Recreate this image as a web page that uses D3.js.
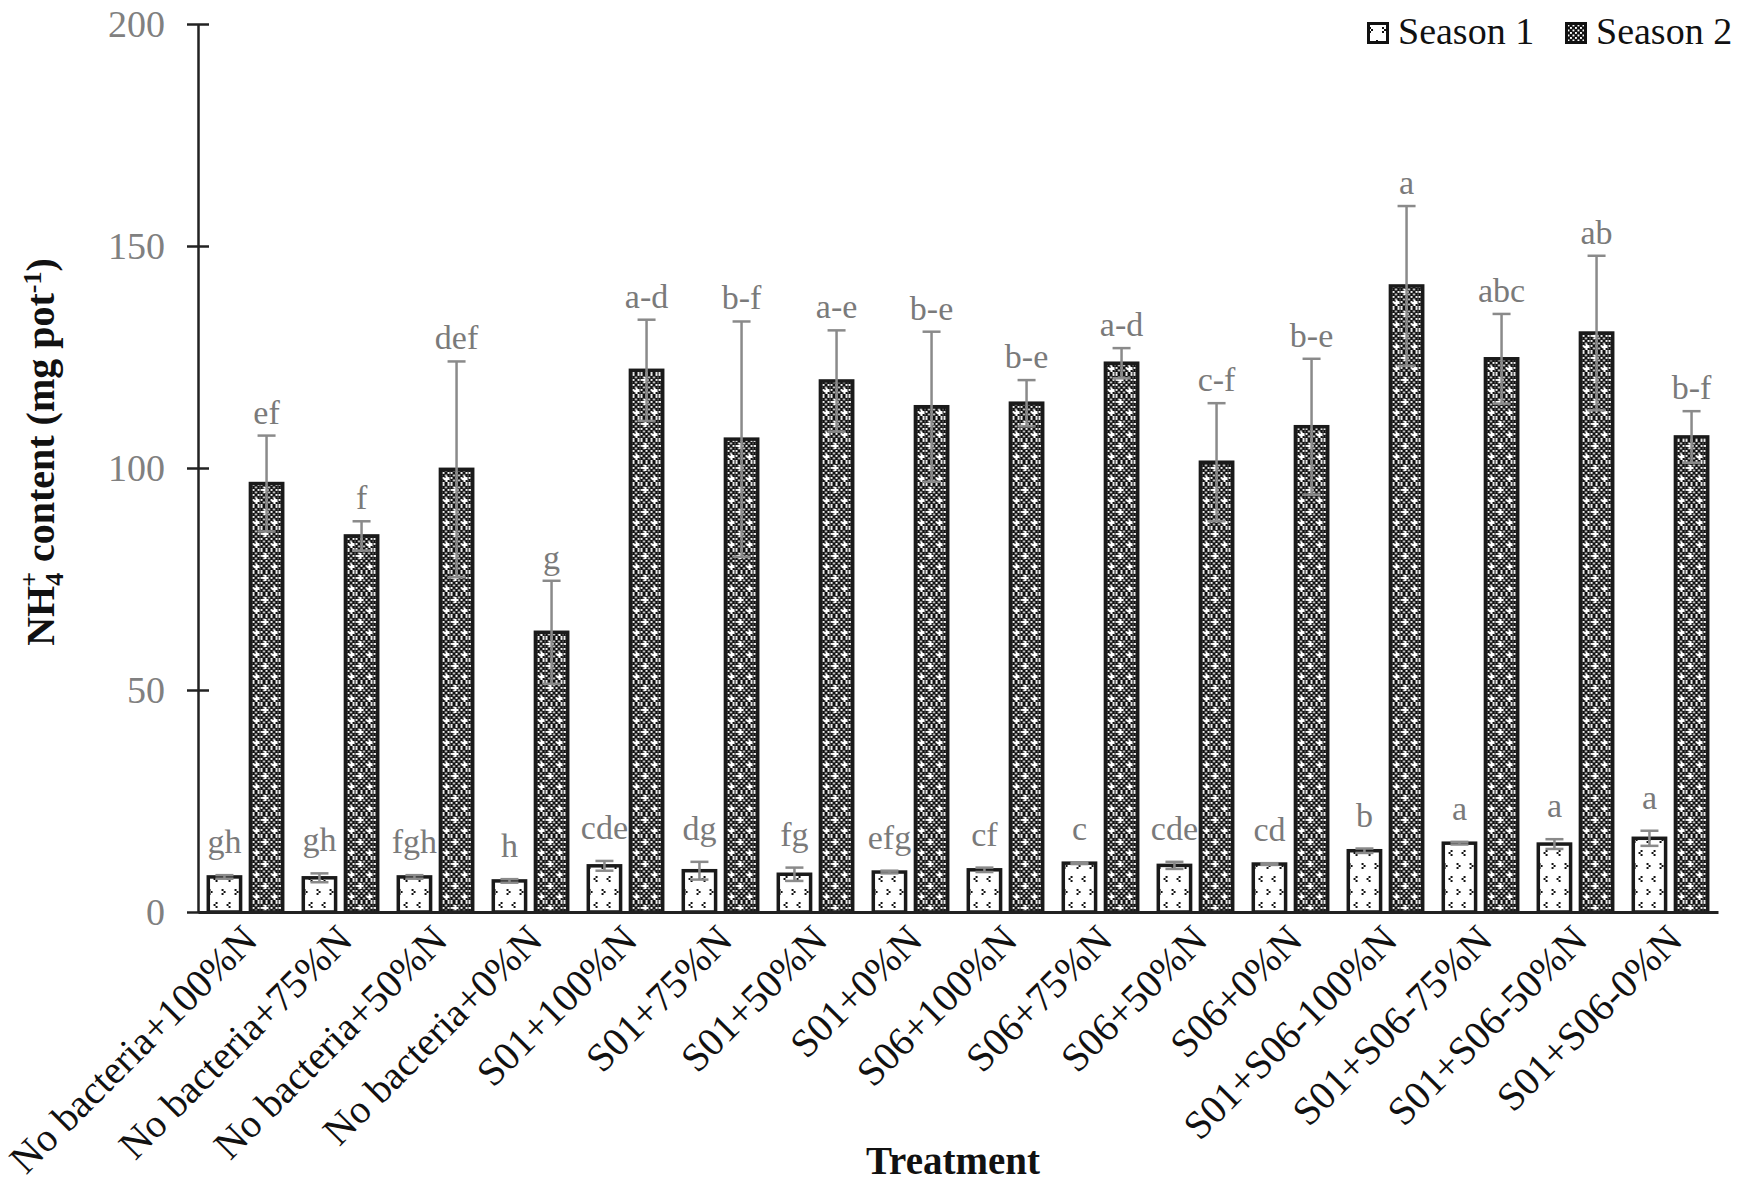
<!DOCTYPE html>
<html>
<head>
<meta charset="utf-8">
<script src="https://cdn.jsdelivr.net/npm/d3@7"></script>
<style>
  html, body { margin: 0; padding: 0; background: #fff; }
  svg { display: block; }
</style>
</head>
<body>
<svg id="chart" width="1750" height="1196"></svg>
<script>
// ---------------- data ----------------
const categories = [
  "No bacteria+100%N", "No bacteria+75%N", "No bacteria+50%N", "No bacteria+0%N",
  "S01+100%N", "S01+75%N", "S01+50%N", "S01+0%N",
  "S06+100%N", "S06+75%N", "S06+50%N", "S06+0%N",
  "S01+S06-100%N", "S01+S06-75%N", "S01+S06-50%N", "S01+S06-0%N"
];
const seriesNames = ["Season 1", "Season 2"];
const season1 = [7.9, 7.7, 7.9, 7.0, 10.4, 9.3, 8.5, 9.0, 9.5, 11.0, 10.5, 10.8, 13.8, 15.5, 15.3, 16.6];
const season1Err = [0.4, 1.0, 0.4, 0.4, 1.1, 2.0, 1.5, 0.3, 0.5, 0.2, 0.8, 0.2, 0.5, 0.3, 1.1, 1.7];
const season2 = [96.5, 84.7, 99.7, 63.0, 122.0, 106.5, 119.6, 113.8, 114.6, 123.6, 101.3, 109.3, 141.0, 124.6, 130.4, 107.0];
const season2Err = [10.8, 3.3, 24.3, 11.6, 11.4, 26.5, 11.4, 16.9, 5.2, 3.4, 13.3, 15.3, 18.0, 10.1, 17.4, 5.8];
const letters1 = ["gh", "gh", "fgh", "h", "cde", "dg", "fg", "efg", "cf", "c", "cde", "cd", "b", "a", "a", "a"];
const letters2 = ["ef", "f", "def", "g", "a-d", "b-f", "a-e", "b-e", "b-e", "a-d", "c-f", "b-e", "a", "abc", "ab", "b-f"];
const yTicks = [0, 50, 100, 150, 200];

// ---------------- setup ----------------
const svg = d3.select("#chart");
const X0 = 198, X1 = 1718, Y0 = 912, Y1 = 24;
const serif = "'Liberation Serif', 'Times New Roman', serif";

const x0 = d3.scaleBand().domain(categories).range([X0, X1]).paddingInner(0.18).paddingOuter(0.09);
const x1 = d3.scaleBand().domain(seriesNames).range([0, x0.bandwidth()]).paddingInner(0.15);
const y = d3.scaleLinear().domain([0, 200]).range([Y0, Y1]);

// patterns
const defs = svg.append("defs");
const p2 = defs.append("pattern").attr("id", "pat2").attr("patternUnits", "userSpaceOnUse")
  .attr("width", 5).attr("height", 5);
p2.append("rect").attr("width", 5).attr("height", 5).attr("fill", "#111");
p2.append("rect").attr("x", 0).attr("y", 0).attr("width", 1.9).attr("height", 1.9).attr("fill", "#fff");
p2.append("rect").attr("x", 2.5).attr("y", 2.5).attr("width", 1.9).attr("height", 1.9).attr("fill", "#fff");
const p2b = defs.append("pattern").attr("id", "pat2b").attr("patternUnits", "userSpaceOnUse")
  .attr("width", 18).attr("height", 22);
p2b.append("rect").attr("width", 18).attr("height", 22).attr("fill", "url(#pat2)");
p2b.append("path").attr("d", "M4,3 h2 v2 h2 v2 h-2 v2 h-2 v-2 h-2 v-2 h2 z").attr("fill", "#fff");
p2b.append("path").attr("d", "M13,14 h2 v2 h2 v2 h-2 v2 h-2 v-2 h-2 v-2 h2 z").attr("fill", "#fff");

const p1 = defs.append("pattern").attr("id", "pat1").attr("patternUnits", "userSpaceOnUse")
  .attr("width", 13).attr("height", 26);
p1.append("rect").attr("width", 13).attr("height", 26).attr("fill", "#fff");
p1.append("path").attr("d", "M2,5 h2 v2 h-2 z M4,7 h2 v2 h-2 z M2,9 h2 v2 h-2 z").attr("fill", "#111");
p1.append("path").attr("d", "M9,18 h2 v2 h-2 z M7,20 h2 v2 h-2 z M9,22 h2 v2 h-2 z").attr("fill", "#111");

// ---------------- rows ----------------
const rows = categories.map((c, i) => ({
  cat: c,
  items: [
    { s: seriesNames[0], v: season1[i], e: season1Err[i], l: letters1[i], fill: "url(#pat1)", gap: 22 },
    { s: seriesNames[1], v: season2[i], e: season2Err[i], l: letters2[i], fill: "url(#pat2b)", gap: 12 }
  ]
}));

const groups = svg.append("g").selectAll("g").data(rows).join("g")
  .attr("transform", d => `translate(${x0(d.cat)},0)`);

groups.selectAll("rect.bar").data(d => d.items).join("rect")
  .attr("class", "bar")
  .attr("x", d => x1(d.s) + 1.75)
  .attr("width", x1.bandwidth() - 3.5)
  .attr("y", d => y(d.v))
  .attr("height", d => y(0) - y(d.v))
  .attr("fill", d => d.fill)
  .attr("stroke", "#1a1a1a")
  .attr("stroke-width", 3.5);

// error bars (symmetric)
const cx = d => x1(d.s) + x1.bandwidth() / 2;
const eb = groups.selectAll("g.err").data(d => d.items).join("g").attr("class", "err")
  .attr("stroke", "#8a8a8a").attr("stroke-width", 2.5);
eb.append("line")
  .attr("x1", cx).attr("x2", cx)
  .attr("y1", d => y(d.v - d.e))
  .attr("y2", d => y(d.v + d.e));
eb.append("line")
  .attr("x1", d => cx(d) - 9).attr("x2", d => cx(d) + 9)
  .attr("y1", d => y(d.v + d.e)).attr("y2", d => y(d.v + d.e));
eb.append("line")
  .attr("x1", d => cx(d) - 9).attr("x2", d => cx(d) + 9)
  .attr("y1", d => y(d.v - d.e)).attr("y2", d => y(d.v - d.e));

// significance letters
groups.selectAll("text.lett").data(d => d.items).join("text")
  .attr("class", "lett")
  .attr("x", cx)
  .attr("y", d => y(d.v + d.e) - d.gap)
  .attr("text-anchor", "middle")
  .attr("font-family", serif).attr("font-size", 34).attr("fill", "#7a7a7a")
  .text(d => d.l);

// ---------------- axes ----------------
const yAxis = svg.append("g").attr("transform", `translate(${X0},0)`)
  .call(d3.axisLeft(y).tickValues(yTicks).tickSizeInner(11).tickSizeOuter(0).tickPadding(22));
yAxis.select(".domain").attr("stroke", "#222").attr("stroke-width", 2.5);
yAxis.selectAll(".tick line").attr("x1", 11).attr("x2", -11).attr("stroke", "#222").attr("stroke-width", 2.5);
yAxis.selectAll(".tick text").attr("font-family", serif).attr("font-size", 38).attr("fill", "#808080");

const xAxis = svg.append("g").attr("transform", `translate(0,${Y0})`)
  .call(d3.axisBottom(x0).tickSize(0).tickSizeOuter(0));
xAxis.select(".domain").attr("stroke", "#222").attr("stroke-width", 3);
xAxis.selectAll(".tick text")
  .attr("font-family", serif).attr("font-size", 40).attr("fill", "#111")
  .attr("text-anchor", "end")
  .attr("dy", 0).attr("y", 0)
  .attr("transform", "translate(14,30) rotate(-45)");

// axis titles
const yt = svg.append("text")
  .attr("transform", "translate(54,452) rotate(-90)")
  .attr("text-anchor", "middle")
  .attr("font-family", serif).attr("font-size", 40).attr("font-weight", "bold").attr("fill", "#111");
yt.append("tspan").text("NH");
yt.append("tspan").attr("font-size", 26).attr("dy", 9).text("4");
yt.append("tspan").attr("font-size", 26).attr("dx", -14).attr("dy", -25).text("+");
yt.append("tspan").attr("dy", 16).text(" content (mg pot");
yt.append("tspan").attr("font-size", 26).attr("dy", -13).text("-1");
yt.append("tspan").attr("dy", 13).text(")");

svg.append("text")
  .attr("x", 953).attr("y", 1174)
  .attr("text-anchor", "middle")
  .attr("font-family", serif).attr("font-size", 39).attr("font-weight", "bold").attr("fill", "#111")
  .text("Treatment");

// ---------------- legend ----------------
const legendX = [1367, 1565];
const lg = svg.append("g").selectAll("g").data(seriesNames).join("g")
  .attr("transform", (d, i) => `translate(${legendX[i]},22)`);
lg.append("rect").attr("x", 1.5).attr("y", 1.5).attr("width", 19).attr("height", 19)
  .attr("fill", (d, i) => i === 0 ? "url(#pat1)" : "url(#pat2)")
  .attr("stroke", "#111").attr("stroke-width", 3);
lg.append("text").attr("x", 31).attr("y", 22)
  .attr("font-family", serif).attr("font-size", 38).attr("fill", "#111")
  .text(d => d);
</script>
</body>
</html>
